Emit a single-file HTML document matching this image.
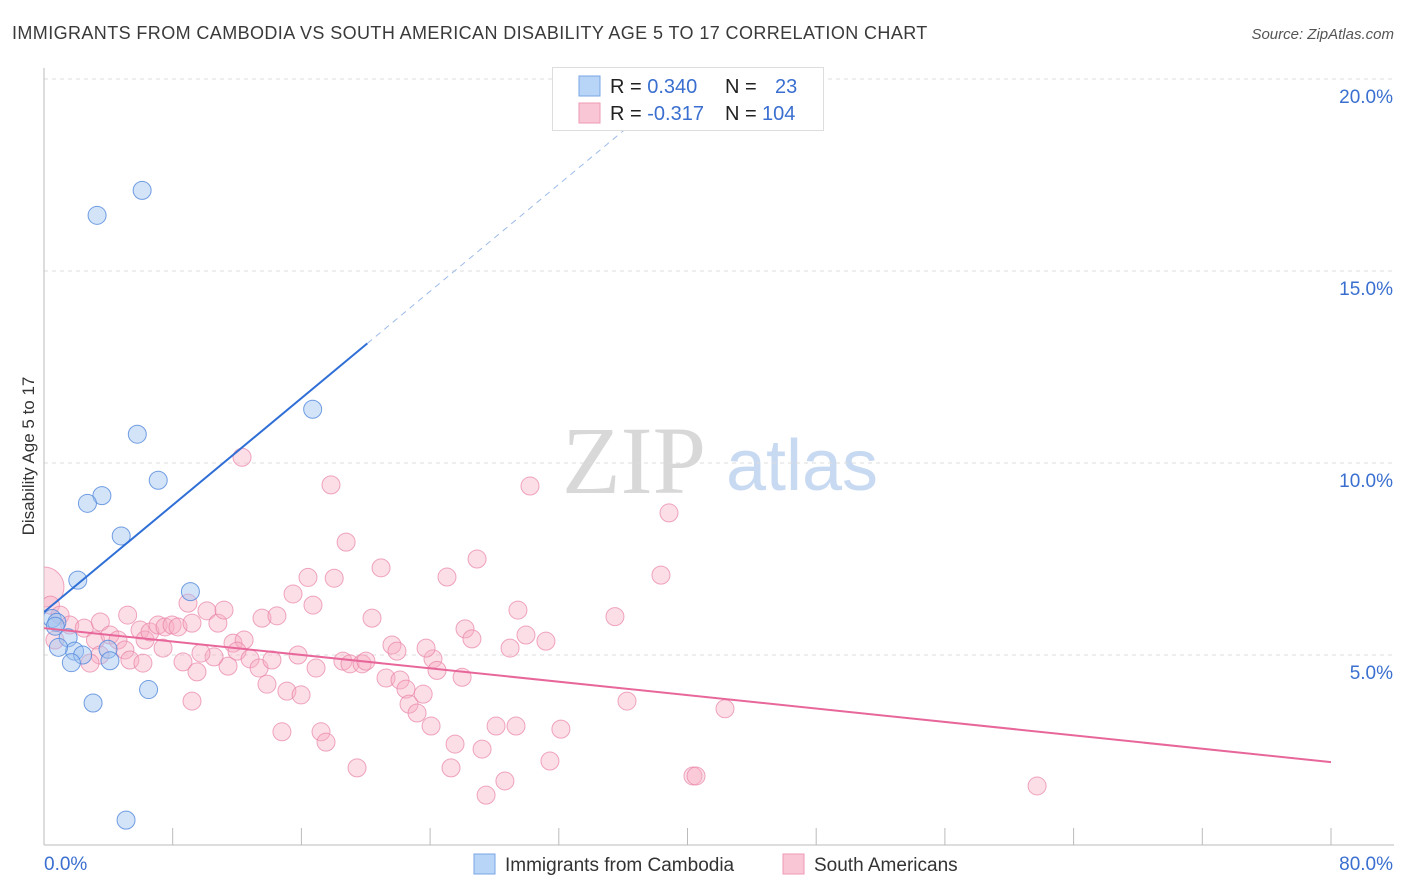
<!DOCTYPE html>
<html><head><meta charset="utf-8"><style>
body{margin:0;background:#fff;width:1406px;height:892px;overflow:hidden;font-family:"Liberation Sans",sans-serif;}
svg{display:block}
</style></head><body>
<svg id="c" width="1406" height="892">
<defs><clipPath id="pc"><rect x="44" y="60" width="1360" height="785"/></clipPath></defs>
<text x="12" y="39" font-size="18" letter-spacing="0.4" fill="#3a3a3a">IMMIGRANTS FROM CAMBODIA VS SOUTH AMERICAN DISABILITY AGE 5 TO 17 CORRELATION CHART</text>
<text x="1394" y="39" font-size="15" font-style="italic" fill="#555" text-anchor="end">Source: ZipAtlas.com</text>
<text x="634" y="493" font-size="96" font-family="Liberation Serif,serif" fill="#d8d8d8" text-anchor="middle">ZIP</text>
<text x="802" y="490" font-size="72" fill="#c8daf2" text-anchor="middle">atlas</text>
<text transform="translate(34,456) rotate(-90)" font-size="17" fill="#333" text-anchor="middle">Disability Age 5 to 17</text>
<g id="grid"></g><g id="marks" clip-path="url(#pc)"></g>
<g>
<rect x="552.5" y="67.5" width="271" height="63" fill="#fff" stroke="#ddd"/>
<rect x="579" y="76" width="21" height="20" fill="#b8d4f6" stroke="#7aa6e4"/>
<rect x="579" y="103" width="21" height="20" fill="#f9c6d5" stroke="#ef9ab5"/>
<text x="610" y="93" font-size="20" fill="#222">R = <tspan fill="#3a6fd0">0.340</tspan><tspan x="725">N = </tspan><tspan x="775" fill="#3a6fd0">23</tspan></text>
<text x="610" y="120" font-size="20" fill="#222">R = <tspan fill="#3a6fd0">-0.317</tspan><tspan x="725">N = </tspan><tspan x="762" fill="#3a6fd0">104</tspan></text>
</g>
<g>
<rect x="474" y="854" width="21" height="20" fill="#b8d4f6" stroke="#7aa6e4"/>
<text x="505" y="871" font-size="19" fill="#333">Immigrants from Cambodia</text>
<rect x="783" y="854" width="21" height="20" fill="#f9c6d5" stroke="#ef9ab5"/>
<text x="814" y="871" font-size="19" fill="#333">South Americans</text>
</g>
</svg>
<script>
const yTicks=[5,10,15,20];
const xTickCount=10;
const blueX=[6.1,3.3,16.7,5.8,7.1,3.6,2.7,4.8,2.1,9.1,0.5,0.8,0.7,1.5,1.9,0.9,2.4,3.98,1.7,4.1,6.5,3.05,5.1];
const blueY=[17.1,16.45,11.4,10.75,9.55,9.15,8.95,8.1,6.95,6.65,5.95,5.85,5.75,5.45,5.1,5.2,5.0,5.15,4.8,4.85,4.1,3.75,0.7];
const pinkX=[0,0.4,1,1.6,2.5,3.5,3.2,4.1,4.6,5.2,5.03,5.97,6.28,6.59,7.09,7.52,7.96,8.33,5.34,6.15,7.4,8.95,9.2,8.64,9.51,9.2,10.13,10.81,11.19,11.75,12.44,12.0,11.44,10.57,9.76,12.31,12.81,13.55,13.37,13.86,14.17,14.48,14.79,15.1,15.48,15.79,15.98,16.41,16.72,16.91,17.22,17.53,17.84,18.04,18.58,18.78,19.02,19.46,19.77,20.01,20.39,20.95,21.26,21.63,21.94,22.13,22.5,22.69,23.19,23.57,24.06,24.18,23.75,25.05,25.3,25.55,24.43,25.99,26.17,26.6,26.92,27.23,27.48,28.1,28.65,28.97,29.34,29.46,29.96,30.21,31.2,31.45,32.13,35.49,36.24,38.35,38.85,40.34,40.53,42.33,61.73,3.48,2.86,0.68];
const pinkY=[6.77,6.3,6.04,5.78,5.7,5.86,5.39,5.52,5.39,6.04,5.13,5.65,5.39,5.6,5.78,5.73,5.78,5.73,4.87,4.79,5.18,6.35,5.83,4.82,4.56,3.8,6.15,5.83,6.17,5.31,5.39,5.1,4.71,4.95,5.05,10.15,4.9,5.96,4.66,4.24,4.87,6.02,3.0,4.06,6.59,5.0,3.96,7.02,6.3,4.66,3.0,2.73,9.43,7.0,4.84,7.94,4.77,2.06,4.77,4.84,5.96,7.27,4.4,5.26,5.1,4.35,4.11,3.72,3.49,3.98,3.15,4.9,5.18,7.03,2.06,2.68,4.6,4.42,5.68,5.42,7.5,2.55,1.35,3.15,1.72,5.18,3.15,6.17,5.52,9.4,5.36,2.24,3.07,6.0,3.8,7.08,8.7,1.85,1.85,3.6,1.59,5.0,4.79,5.39];
const blueLine={b:6.12,m:0.348,solidEnd:20.1,dashEnd:36.4};
const pinkLine={y0:5.70,y80:2.21};
const X=v=>44+v*1287/80, Y=v=>847-v*38.4;
const NS='http://www.w3.org/2000/svg';
function mk(t,a,p){const e=document.createElementNS(NS,t);for(const k in a)e.setAttribute(k,a[k]);p.appendChild(e);return e;}
const g=document.getElementById('grid'), m=document.getElementById('marks');
for(const t of yTicks){
 const l=mk('line',{x1:44,x2:1394,y1:Y(t),y2:Y(t),stroke:'#dcdcdc','stroke-dasharray':'4,4'},g);
 
 
 const tx=mk('text',{x:1393,y:Y(t)+24,'font-size':19,fill:'#3a6fd0','text-anchor':'end'},g);
 tx.textContent=t.toFixed(1)+'%';
 
 
}
const ax=mk('line',{x1:44,x2:1394,y1:845,y2:845,stroke:'#bbb'},g);


const ay=mk('line',{x1:44,x2:44,y1:68,y2:845,stroke:'#bbb'},g);


for(let i=0;i<=xTickCount;i++){
 const v=i*80/xTickCount;
 const t=mk('line',{x1:X(v),x2:X(v),y1:828,y2:845,stroke:'#bbb'},g);
 
 
}
const xl0=mk('text',{x:44,y:870,'font-size':19,fill:'#3a6fd0'},g);xl0.textContent='0.0%';


const xl1=mk('text',{x:1393,y:870,'font-size':19,fill:'#3a6fd0','text-anchor':'end'},g);xl1.textContent='80.0%';


pinkX.forEach((x,i)=>{
 const c=mk('circle',{cx:X(x),cy:Y(pinkY[i]),r:i===0?20:9,fill:'rgba(247,172,196,0.4)',stroke:'rgba(232,130,165,0.7)','stroke-width':1},m);
 
 
});
blueX.forEach((x,i)=>{
 const c=mk('circle',{cx:X(x),cy:Y(blueY[i]),r:9,fill:'rgba(160,196,240,0.45)',stroke:'rgba(80,135,220,0.8)','stroke-width':1},m);
 
 
});
const bl=mk('line',{x1:X(0),y1:Y(blueLine.b),x2:X(blueLine.solidEnd),y2:Y(blueLine.b+blueLine.m*blueLine.solidEnd),stroke:'#2f6fd6','stroke-width':2},m);


const bd=mk('line',{x1:X(blueLine.solidEnd),y1:Y(blueLine.b+blueLine.m*blueLine.solidEnd),x2:X(blueLine.dashEnd),y2:Y(blueLine.b+blueLine.m*blueLine.dashEnd),stroke:'#9dbbe8','stroke-width':1,'stroke-dasharray':'6,5'},m);


const pl=mk('line',{x1:X(0),y1:Y(pinkLine.y0),x2:X(80),y2:Y(pinkLine.y80),stroke:'#e8679a','stroke-width':2},m);


</script>
</body></html>
